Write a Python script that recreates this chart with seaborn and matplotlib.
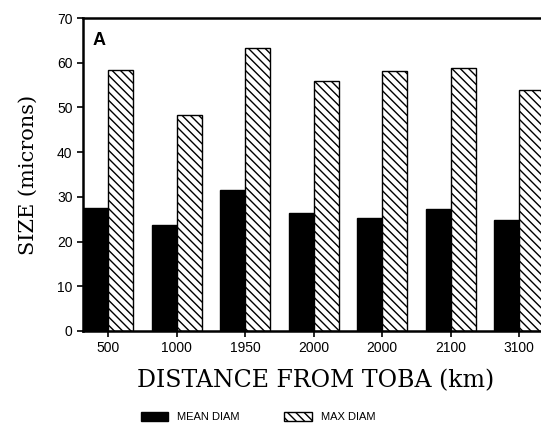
import numpy as np
import pandas as pd
import matplotlib.pyplot as plt
import seaborn as sns
from matplotlib.patches import Patch

# values
distance_labels = ["500", "1000", "1950", "2000", "2000", "2100", "3100"]
mean_diam = [27.4, 23.8, 31.5, 26.3, 25.3, 27.3, 24.8]
max_diam = [58.3, 48.4, 63.3, 55.8, 58.2, 58.9, 53.8]
series_names = ["MEAN DIAM", "MAX DIAM"]

site = [f"s{i}" for i in range(len(distance_labels))]
df = pd.DataFrame({
    "site": site * 2,
    "size": mean_diam + max_diam,
    "kind": [series_names[0]] * len(site) + [series_names[1]] * len(site),
})

sns.set_style("ticks")
plt.rcParams.update({
    "hatch.linewidth": 1.0,
    "axes.linewidth": 1.8,
    "axes.edgecolor": "black",
    "text.color": "black",
    "axes.labelcolor": "black",
    "xtick.color": "black",
    "ytick.color": "black",
})

fig = plt.figure(figsize=(5.41, 4.25), dpi=100)
ax = fig.add_axes([83 / 541, 1 - 331 / 425, 465 / 541, (331 - 18) / 425])

sns.barplot(data=df, x="site", y="size", hue="kind", order=site,
            hue_order=series_names, palette=["black", "white"],
            edgecolor="black", linewidth=1.0, width=0.73, saturation=1,
            legend=False, ax=ax)

for bar in ax.containers[1]:
    bar.set_hatch("\\\\\\\\")

ax.set_xlim(-0.365, 6.42)
ax.set_ylim(0, 70)
ax.set_yticks(range(0, 71, 10))
ax.set_xticks(range(len(distance_labels)))
ax.set_xticklabels(distance_labels)
ax.tick_params(axis="both", labelsize=10, length=4, width=1.2, direction="out")
for lab in ax.get_xticklabels() + ax.get_yticklabels():
    lab.set_family("Liberation Sans")
ax.spines["right"].set_visible(False)

ax.set_xlabel("DISTANCE FROM TOBA (km)", family="DejaVu Serif", fontsize=17, labelpad=10)
ax.set_ylabel("SIZE (microns)", family="DejaVu Serif", fontsize=15, labelpad=14)

ax.text(0.02, 0.955, "A", transform=ax.transAxes, fontsize=13, fontweight="bold",
        family="Liberation Sans", va="top", ha="left")

handles = [Patch(facecolor="black", edgecolor="black"),
           Patch(facecolor="white", edgecolor="black", hatch="\\\\\\\\")]
fig.legend(handles, series_names, loc="center", bbox_to_anchor=(258 / 541, 1 - 417 / 425),
           ncol=2, frameon=False, handlelength=2.5, handleheight=0.9,
           columnspacing=4, prop={"family": "Liberation Sans", "size": 8})

fig.savefig("out.png", dpi=100)
